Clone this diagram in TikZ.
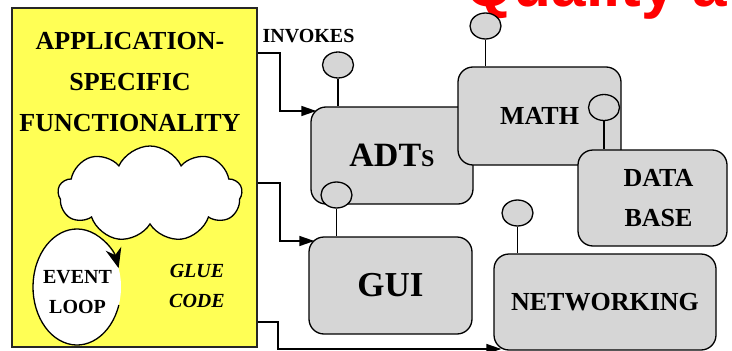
\documentclass[tikz,border=0pt]{standalone}
\usepackage{fontspec}
\setmainfont{Liberation Serif}
\newfontfamily\headfont{Liberation Sans}
\usepackage{tikz}
\usetikzlibrary{shapes.symbols, shapes.geometric, arrows.meta}
\definecolor{glueyellow}{RGB}{255,255,85}
\definecolor{modgray}{RGB}{214,214,214}

\begin{document}
\begin{tikzpicture}[x=1pt, y=-1pt,
    module/.style={draw, line width=1.3pt, fill=modgray, rounded corners=15pt,
        align=center, inner sep=0pt, font=\bfseries\fontsize{26}{40}\selectfont},
    iface/.style={draw, line width=1.3pt, fill=modgray, ellipse, inner sep=0pt,
        minimum width=31pt, minimum height=26pt},
    stem/.style={line width=1.3pt},
    invoke/.style={line width=1.3pt, -{Triangle[length=15pt, width=10pt]}},
    small/.style={font=\bfseries\fontsize{20}{30}\selectfont, align=center}]
    \useasboundingbox (0,0) rectangle (732,351);

    % Slide title, cut by the page
    \node[anchor=base west, text=red, font=\headfont\bfseries\fontsize{62}{62}\selectfont] (heading) at (462,6) {Quality a};

    % Application box
    \node[draw=black!85, line width=1.3pt, fill=glueyellow, inner sep=0pt,
        minimum width=245pt, minimum height=339pt] (app) at (134.5,177.5) {};
    \node[align=center, font=\bfseries\fontsize{26}{41}\selectfont] (appl) at (130,82.5) {APPLICATION-\\SPECIFIC\\FUNCTIONALITY};

    % Glue code
    \node[cloud, draw, fill=white, line width=1.3pt, cloud puffs=9, cloud puff arc=130,
        aspect=2, inner sep=0pt, minimum width=184pt, minimum height=96pt] (cloud) at (150,194) {};
    \node[ellipse, fill=white, inner sep=0pt, minimum width=88pt, minimum height=116pt] (loop) at (77,287) {};
    \draw[line width=1.3pt, -{Stealth[length=20pt, width=16pt]}] (loop.center) ++(18:44 and 58)
        arc[start angle=18, end angle=341, x radius=44, y radius=58];
    \node[small] (looptxt) at (77.5,292.5) {EVENT\\LOOP};
    \node[small, font=\bfseries\itshape\fontsize{20}{30}\selectfont] (glue) at (197,286) {GLUE\\CODE};

    % Modules
    \node[module, minimum width=162pt, minimum height=97pt, font=\bfseries\fontsize{34}{40}\selectfont] (adts) at (392,155.5) {ADT{\fontsize{24}{30}\selectfont S}};
    \node[module, minimum width=163pt, minimum height=98pt] (math) at (539.5,116) {MATH};
    \node[module, minimum width=149pt, minimum height=96pt] (dbase) at (652.5,198) {\hspace*{12pt}DATA\\\hspace*{12pt}BASE};
    \node[module, minimum width=163pt, minimum height=97pt, font=\bfseries\fontsize{35}{40}\selectfont] (gui) at (390.5,285.5) {GUI};
    \node[module, minimum width=222pt, minimum height=96pt] (net) at (605,302) {NETWORKING};

    % Interfaces
    \node[iface] (adtsif) at (338,65) {};
    \node[iface] (mathif) at (485.5,26) {};
    \node[iface] (dbaseif) at (604,107.5) {};
    \node[iface] (guiif) at (336.5,195) {};
    \node[iface] (netif) at (517.5,213) {};
    \draw[stem] (adtsif) -- (adtsif |- adts.north);
    \draw[stem] (mathif) -- (mathif |- math.north);
    \draw[stem] (dbaseif) -- (dbaseif |- dbase.north);
    \draw[stem] (guiif) -- (guiif |- gui.north);
    \draw[stem] (netif) -- (netif |- net.north);

    % Calls
    \node[small, anchor=base] (invokes) at (308.5,42) {INVOKES};
    \draw[invoke] (app.east |- 0,53) -- (280,53) |- ([xshift=6pt]adts.west |- 0,111);
    \draw[invoke] (app.east |- 0,183) -- (280,183) |- ([xshift=6pt]gui.west |- 0,241);
    \draw[invoke] (app.east |- 0,322) -- (278,322) |- ([xshift=8pt]net.west |- 0,349);
\end{tikzpicture}
\end{document}
